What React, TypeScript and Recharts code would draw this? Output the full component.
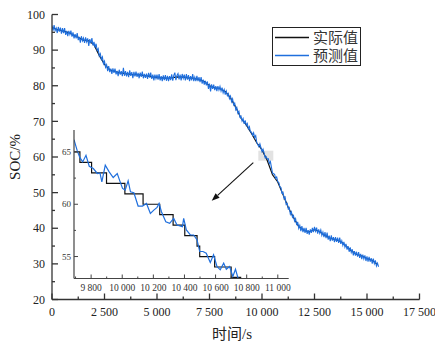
import React from 'react';
import { LineChart, Line, XAxis, YAxis, ReferenceLine, ReferenceArea, Legend } from 'recharts';

// ---------------- main chart data ----------------
const predictedStep = 50; // s between predicted samples
const predictedSOC: number[] = [
  96.9, 95.5, 97.0, 95.5, 96.2, 94.8, 96.5, 95.2, 96.3, 94.6,
  96.2, 94.8, 96.2, 94.3, 95.4, 93.9, 95.4, 94.4, 95.5, 93.8,
  95.0, 93.3, 94.5, 93.3, 94.8, 92.8, 93.7, 92.1, 93.9, 92.6,
  93.4, 92.0, 93.6, 92.3, 93.3, 91.2, 93.1, 91.9, 93.4, 91.3,
  92.3, 90.7, 91.8, 89.9, 90.4, 88.4, 89.0, 87.4, 88.1, 86.2,
  86.9, 85.2, 85.9, 84.1, 85.5, 83.8, 84.8, 83.3, 84.9, 83.6,
  84.8, 83.2, 84.2, 82.7, 84.5, 83.1, 84.1, 82.7, 85.0, 82.8,
  84.1, 82.6, 83.9, 82.4, 84.3, 82.8, 83.8, 82.1, 83.9, 82.6,
  84.0, 82.5, 83.6, 82.1, 83.7, 82.5, 84.0, 82.1, 83.3, 82.2,
  83.4, 81.9, 83.6, 82.3, 83.7, 81.9, 83.1, 81.5, 83.1, 82.0,
  83.1, 81.7, 83.3, 81.5, 82.7, 81.3, 82.9, 81.6, 83.0, 81.4,
  82.8, 81.3, 82.7, 81.6, 83.2, 81.4, 82.9, 83.7, 81.6, 82.9,
  83.4, 81.8, 83.1, 81.5, 83.3, 82.1, 83.1, 81.5, 83.3, 81.7,
  83.0, 81.3, 82.7, 81.5, 83.3, 81.3, 82.4, 81.3, 82.8, 81.3,
  82.4, 81.0, 82.4, 80.6, 81.7, 80.3, 81.4, 80.1, 81.2, 79.1,
  80.6, 78.4, 80.4, 79.1, 80.3, 78.8, 79.9, 78.5, 79.9, 78.8,
  79.8, 78.5, 79.5, 78.0, 78.9, 77.5, 78.5, 77.2, 77.8, 76.4,
  77.1, 75.5, 76.3, 74.6, 75.1, 73.3, 73.9, 72.3, 72.8, 71.2,
  71.5, 70.1, 70.8, 69.3, 70.3, 68.9, 69.4, 67.9, 68.5, 67.0,
  67.0, 66.1, 66.8, 65.5, 66.0, 64.1, 63.5, 62.9, 63.7, 62.6,
  61.5, 62.2, 61.1, 59.8, 60.1, 59.4, 59.5, 58.2, 58.7, 57.1,
  55.5, 55.3, 55.1, 54.0, 54.4, 53.1, 52.8, 51.7, 51.4, 49.9,
  50.1, 48.3, 48.7, 46.7, 47.0, 45.4, 45.8, 43.9, 44.6, 43.1,
  43.6, 42.0, 42.7, 40.9, 41.8, 40.0, 40.8, 39.2, 40.6, 38.9,
  40.1, 38.7, 40.1, 38.4, 39.5, 38.2, 39.7, 38.7, 40.1, 38.9,
  40.4, 39.2, 40.2, 38.5, 39.7, 38.6, 39.5, 38.0, 38.9, 37.5,
  38.9, 37.2, 38.8, 36.8, 37.9, 36.4, 38.0, 36.5, 37.5, 36.1,
  37.5, 36.2, 37.4, 35.9, 37.4, 35.6, 36.5, 35.2, 36.2, 34.7,
  35.6, 34.0, 35.0, 33.4, 34.6, 33.2, 34.1, 32.4, 33.6, 32.3,
  33.4, 32.0, 33.3, 31.7, 32.8, 31.3, 32.6, 31.4, 32.4, 30.8,
  32.1, 30.6, 32.0, 30.6, 31.6, 30.1, 31.5, 30.1, 31.0, 29.4,
  30.2, 29.2,
];

const actualStep = 250; // s between actual samples
const actualSOC: number[] = [
  96.3, 95.8, 95.4, 95.0, 94.3, 93.6, 92.8, 92.6, 91.5, 88.5,
  86.0, 84.5, 84.0, 83.6, 83.4, 83.2, 83.1, 83.0, 82.8, 82.5,
  82.3, 82.2, 82.1, 82.3, 82.5, 82.4, 82.2, 82.1, 81.7, 81.2,
  80.0, 79.4, 79.2, 78.4, 76.6, 74.0, 70.9, 69.0, 66.6, 64.0,
  62.0, 59.0, 55.0, 53.0, 49.5, 45.8, 43.0, 40.5, 39.4, 39.0,
  39.6, 39.0, 38.0, 37.2, 36.8, 36.3, 35.0, 33.7, 32.7, 32.2,
  31.5, 31.0, 29.8,
];

const mainXTicks: number[] = [0, 1250, 2500, 3750, 5000, 6250, 7500, 8750, 10000, 11250, 12500, 13750, 15000, 16250, 17500];
const mainYTicks: number[] = [20, 25, 30, 35, 40, 45, 50, 55, 60, 65, 70, 75, 80, 85, 90, 95, 100];

// ---------------- inset data ----------------
const insetActualTime: number[] = [9690, 9728, 9803, 9899, 10017, 10134, 10241, 10327, 10402, 10481, 10498, 10594, 10700, 10765];
const insetActualSOC: number[] = [65, 64, 63, 62, 61, 60, 59, 58, 57, 56, 55, 54, 53, 53];

const insetPredTime: number[] = [
  9690, 9711, 9728, 9746, 9767, 9788, 9814, 9840, 9857, 9869,
  9891, 9916, 9942, 9968, 9985, 10002, 10019, 10038, 10053, 10075,
  10102, 10130, 10156, 10181, 10203, 10224, 10237, 10252, 10280, 10305,
  10331, 10352, 10387, 10395, 10412, 10438, 10459, 10481, 10498, 10519,
  10540, 10566, 10587, 10609, 10630, 10652, 10669, 10690, 10711, 10728,
  10746, 10765,
];
const insetPredSOC: number[] = [
  66.17, 65.10, 64.46, 64.05, 64.68, 63.63, 63.41, 62.94, 63.00, 62.14,
  63.73, 63.10, 62.56, 62.94, 62.21, 61.51, 61.35, 62.24, 61.19, 61.10,
  59.83, 59.83, 60.08, 59.13, 59.44, 59.70, 60.08, 59.29, 58.33, 58.17,
  58.65, 58.02, 57.86, 58.65, 57.54, 57.06, 57.06, 56.59, 55.48, 55.48,
  55.32, 54.43, 55.16, 54.05, 53.73, 54.37, 53.79, 54.05, 53.10, 53.79,
  52.84, 52.78,
];

const insetXTicks: number[] = [9700, 9800, 9900, 10000, 10100, 10200, 10300, 10400, 10500, 10600, 10700, 10800, 10900, 11000];
const insetYTicks: number[] = [55, 57.5, 60, 62.5, 65];

const seriesNames = ['实际值', '预测值'];

// ---------------- derived tables ----------------
const predictedData = predictedSOC.map((v, i) => ({ t: i * predictedStep, soc: v }));
const actualData = actualSOC.map((v, i) => ({ t: i * actualStep, soc: v }));
const insetActualData = insetActualSOC.map((v, i) => ({ t: insetActualTime[i], soc: v }));
const insetPredData = insetPredSOC.map((v, i) => ({ t: insetPredTime[i], soc: v }));

const BLUE = '#1f6fdd';
const SERIF = '"Liberation Serif", "Times New Roman", serif';
const CJK = '"Liberation Serif", "Noto Sans CJK SC", serif';
const AXIS = '#333';

const fmt = (v: number) => {
  if (v < 1000) return String(v);
  return `${Math.floor(v / 1000)} ${String(v % 1000).padStart(3, '0')}`;
};

const MainXTick = (props: any) => {
  const { x, y, payload } = props;
  const v = payload.value as number;
  const major = v % 2500 === 0;
  return (
    <g>
      <line x1={x} x2={x} y1={y} y2={y - (major ? 6 : 3)} stroke={AXIS} strokeWidth={1.3} />
      {major && (
        <text x={x} y={y + 16} textAnchor="middle" fontFamily={SERIF} fontSize={12} fill="#222">
          {fmt(v)}
        </text>
      )}
    </g>
  );
};

const MainYTick = (props: any) => {
  const { x, y, payload } = props;
  const v = payload.value as number;
  const major = v % 10 === 0;
  return (
    <g>
      <line x1={x} x2={x + (major ? 6 : 3)} y1={y} y2={y} stroke={AXIS} strokeWidth={1.3} />
      {major && (
        <text x={x - 7} y={y} dy="0.35em" textAnchor="end" fontFamily={SERIF} fontSize={12} fill="#222">
          {v}
        </text>
      )}
    </g>
  );
};

const InsetXTick = (props: any) => {
  const { x, y, payload } = props;
  const v = payload.value as number;
  const major = v % 200 === 0;
  return (
    <g>
      <line x1={x} x2={x} y1={y} y2={y - (major ? 4 : 2)} stroke="#444" strokeWidth={1} />
      {major && (
        <text x={x} y={y + 12} textAnchor="middle" fontFamily={SERIF} fontSize={9.5} fill="#333">
          {fmt(v)}
        </text>
      )}
    </g>
  );
};

const InsetYTick = (props: any) => {
  const { x, y, payload } = props;
  const v = payload.value as number;
  const major = v % 5 === 0;
  return (
    <g>
      <line x1={x} x2={x + (major ? 4 : 2)} y1={y} y2={y} stroke="#444" strokeWidth={1} />
      {major && (
        <text x={x - 3} y={y} dy="0.35em" textAnchor="end" fontFamily={SERIF} fontSize={9} fill="#333">
          {v}
        </text>
      )}
    </g>
  );
};

const ArrowShape = (p: any) => {
  const { x1, y1, x2, y2 } = p;
  const ang = Math.atan2(y2 - y1, x2 - x1);
  const L = 8;
  const W = 3;
  const bx = x2 - L * Math.cos(ang);
  const by = y2 - L * Math.sin(ang);
  const px = -Math.sin(ang) * W;
  const py = Math.cos(ang) * W;
  return (
    <g>
      <line x1={x1} y1={y1} x2={bx} y2={by} stroke="#111" strokeWidth={1.1} />
      <polygon points={`${x2},${y2} ${bx + px},${by + py} ${bx - px},${by - py}`} fill="#111" />
    </g>
  );
};

const LegendBox = () => (
  <div
    style={{
      width: 89,
      height: 39,
      border: '1.3px solid #222',
      boxSizing: 'border-box',
      background: '#fff',
    }}
  >
    <svg width={87} height={37} style={{ display: 'block' }}>
      <line x1={2} x2={36} y1={9.5} y2={9.5} stroke="#111" strokeWidth={1.3} />
      <text x={40} y={9.5} dy="0.35em" fontFamily={CJK} fontSize={15} fill="#333">
        {seriesNames[0]}
      </text>
      <line x1={2} x2={36} y1={27.5} y2={27.5} stroke={BLUE} strokeWidth={1.3} />
      <text x={40} y={27.5} dy="0.35em" fontFamily={CJK} fontSize={15} fill="#333">
        {seriesNames[1]}
      </text>
    </svg>
  </div>
);

export default function App() {
  return (
    <div style={{ position: 'fixed', left: 0, top: 0, width: 435, height: 342, background: '#fff' }}>
      <LineChart width={435} height={342} margin={{ top: 14.5, right: 15.5, bottom: 12.5, left: 0 }}>
        <XAxis
          type="number"
          dataKey="t"
          domain={[0, 17500]}
          ticks={mainXTicks}
          interval={0}
          tickSize={0}
          tickMargin={0}
          tickLine={false}
          tick={MainXTick}
          axisLine={{ stroke: AXIS, strokeWidth: 1.3 }}
          height={30}
          allowDataOverflow
          label={{
            content: () => (
              <text x={232} y={334} dy="0.35em" textAnchor="middle" fontFamily={CJK} fontSize={15} fill="#222">
                时间/s
              </text>
            ),
          }}
        />
        <YAxis
          type="number"
          dataKey="soc"
          domain={[20, 100]}
          ticks={mainYTicks}
          interval={0}
          tickSize={0}
          tickMargin={0}
          tickLine={false}
          tick={MainYTick}
          axisLine={{ stroke: AXIS, strokeWidth: 1.3 }}
          width={52}
          allowDataOverflow
          label={{
            content: () => (
              <text
                x={15}
                y={157}
                dy="0.35em"
                textAnchor="middle"
                transform="rotate(-90 15 157)"
                fontFamily={SERIF}
                fontSize={15}
                fill="#222"
              >
                SOC/%
              </text>
            ),
          }}
        />
        <ReferenceArea x1={9824} x2={10538} y1={58.96} y2={61.77} fill="#cfcfcf" fillOpacity={0.6} stroke="none" />
        <Line
          data={actualData}
          dataKey="soc"
          type="linear"
          stroke="#111"
          strokeWidth={1.2}
          dot={false}
          isAnimationActive={false}
          name={seriesNames[0]}
        />
        <Line
          data={predictedData}
          dataKey="soc"
          type="linear"
          stroke={BLUE}
          strokeWidth={1.1}
          dot={false}
          isAnimationActive={false}
          name={seriesNames[1]}
        />
        <ReferenceLine
          segment={[
            { x: 9586, y: 58.4 },
            { x: 7605, y: 47.7 },
          ]}
          shape={ArrowShape}
        />
        <Legend
          layout="vertical"
          align="center"
          verticalAlign="middle"
          wrapperStyle={{ left: 272, top: 27, width: 89, height: 39 }}
          content={LegendBox}
        />
      </LineChart>

      <div style={{ position: 'absolute', left: 0, top: 0, width: 300, height: 300, pointerEvents: 'none' }}>
        <LineChart width={300} height={300} margin={{ top: 130, right: 11.3, bottom: 1.5, left: 34 }}>
          <XAxis
            type="number"
            dataKey="t"
            domain={[9690, 11070]}
            ticks={insetXTicks}
            interval={0}
            tickSize={0}
            tickMargin={0}
            tickLine={false}
            tick={InsetXTick}
            axisLine={{ stroke: '#444', strokeWidth: 1.2 }}
            height={20}
            allowDataOverflow
          />
          <YAxis
            type="number"
            dataKey="soc"
            domain={[52.9, 67.1]}
            ticks={insetYTicks}
            interval={0}
            tickSize={0}
            tickMargin={0}
            tickLine={false}
            tick={InsetYTick}
            axisLine={{ stroke: '#444', strokeWidth: 1.2 }}
            width={40}
            allowDataOverflow
          />
          <Line
            data={insetActualData}
            dataKey="soc"
            type="stepAfter"
            stroke="#111"
            strokeWidth={1.2}
            dot={false}
            isAnimationActive={false}
          />
          <Line
            data={insetPredData}
            dataKey="soc"
            type="linear"
            stroke={BLUE}
            strokeWidth={1.2}
            dot={false}
            isAnimationActive={false}
          />
        </LineChart>
      </div>
    </div>
  );
}
